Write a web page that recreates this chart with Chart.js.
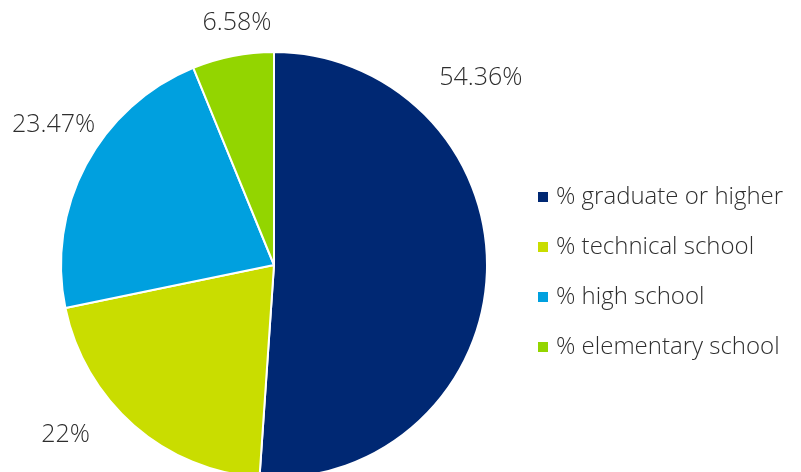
<!DOCTYPE html>
<html>
<head>
<meta charset="utf-8">
<script src="https://cdn.jsdelivr.net/npm/chart.js@4"></script>
<style>
  html, body { margin: 0; padding: 0; background: #fff; overflow: hidden; }
  #wrap { position: relative; width: 801px; height: 520px; }
</style>
</head>
<body>
<div id="wrap"><canvas id="eduChart"></canvas></div>
<script>
const categories = ['% graduate or higher', '% technical school', '% high school', '% elementary school'];
const shares = [54.36, 22, 23.47, 6.58];
const valueLabels = ['54.36%', '22%', '23.47%', '6.58%'];
const colors = ['#002873', '#c9dd00', '#00a0df', '#93d500'];

// where each value label sits: fraction along the slice, distance past the rim
const labelAlong = [0.26, 0.63, 0.555, 0.61];
const labelGap = [66, 56, 48, 32];

const FONT = '"Open Sans", "Liberation Sans", sans-serif';
const TEXT = '#2e2e2e';

const sliceLabels = {
  id: 'sliceLabels',
  afterDatasetsDraw(chart) {
    const ctx = chart.ctx;
    const arcs = chart.getDatasetMeta(0).data;
    ctx.save();
    ctx.font = '300 25px ' + FONT;
    ctx.fillStyle = TEXT;
    ctx.textAlign = 'center';
    ctx.textBaseline = 'middle';
    arcs.forEach((arc, i) => {
      const a = arc.startAngle + labelAlong[i] * (arc.endAngle - arc.startAngle);
      const d = arc.outerRadius + labelGap[i];
      ctx.fillText(valueLabels[i], arc.x + d * Math.cos(a), arc.y + d * Math.sin(a));
    });
    ctx.restore();
  }
};

const sideLegend = {
  id: 'sideLegend',
  afterDraw(chart) {
    const ctx = chart.ctx;
    ctx.save();
    ctx.font = '300 24px ' + FONT;
    ctx.textBaseline = 'middle';
    categories.forEach((name, i) => {
      const y = 197 + i * 50;
      ctx.fillStyle = colors[i];
      ctx.fillRect(538, y - 5, 10, 10);
      ctx.fillStyle = TEXT;
      ctx.fillText(name, 556, y);
    });
    ctx.restore();
  }
};

new Chart(document.getElementById('eduChart'), {
  type: 'pie',
  data: {
    labels: categories,
    datasets: [{
      data: shares,
      backgroundColor: colors,
      borderColor: '#ffffff',
      borderWidth: 2
    }]
  },
  options: {
    responsive: true,
    maintainAspectRatio: false,
    animation: false,
    layout: { padding: { left: 60, right: 313, top: 51, bottom: 41 } },
    plugins: {
      legend: { display: false },
      tooltip: { enabled: false }
    }
  },
  plugins: [sliceLabels, sideLegend]
});
</script>
</body>
</html>
